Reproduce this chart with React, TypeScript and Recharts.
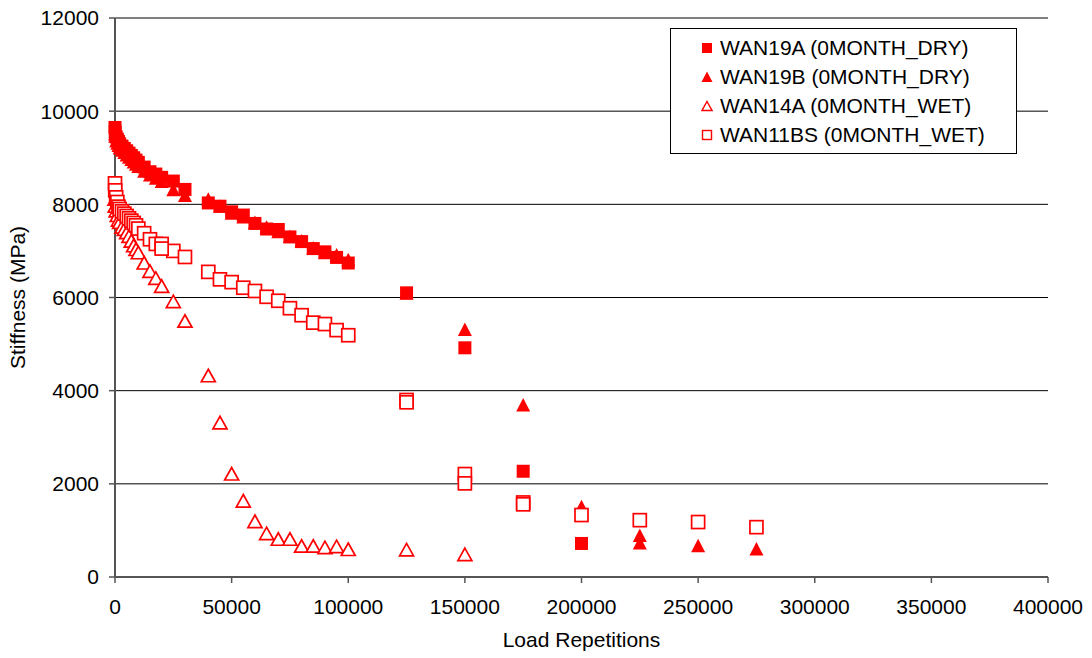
import { CartesianGrid, Legend, Scatter, ScatterChart, XAxis, YAxis } from "recharts";

const FONT = "'Liberation Sans', Arial, sans-serif";
const RED = "#ff0000";

const xTicks = [0, 50000, 100000, 150000, 200000, 250000, 300000, 350000, 400000];
const yTicks = [0, 2000, 4000, 6000, 8000, 10000, 12000];

// load repetitions used for the early readings (0 - 30000)
const earlyReps = [0, 100, 500, 1000, 1500, 2000, 3000, 4000, 5000, 6000, 7000, 8000, 9000, 10000, 12500, 15000, 17500, 20000, 25000, 30000];
const midReps = [40000, 45000, 50000, 55000, 60000, 65000, 70000, 75000, 80000, 85000, 90000, 95000, 100000];

const wan19aReps = [...earlyReps, ...midReps, 125000, 150000, 175000, 200000];
const wan19aStiff = [
  9650, 9550, 9450, 9400, 9350, 9300, 9250, 9200, 9150, 9100, 9050, 9000, 8950, 8900, 8800, 8700, 8650, 8580, 8500, 8320,
  8030, 7960, 7840, 7770, 7590, 7470, 7460, 7300, 7200, 7050, 6980, 6860, 6740,
  6100, 4920, 2270, 720,
];

const wan19bReps = [...earlyReps, ...midReps, 125000, 150000, 175000, 200000, 225000, 225000, 250000, 275000];
const wan19bStiff = [
  9500, 9450, 9350, 9300, 9250, 9200, 9150, 9100, 9050, 9000, 8950, 8900, 8850, 8800, 8700, 8620, 8550, 8480, 8300, 8180,
  8100, 7950, 7800, 7720, 7600, 7500, 7400, 7300, 7200, 7050, 6950, 6900, 6800,
  6080, 5300, 3680, 1500, 880, 720, 660, 590,
];

const wan14aReps = [...earlyReps, ...midReps, 125000, 150000];
const wan14aStiff = [
  8100, 7950, 7850, 7750, 7650, 7600, 7500, 7450, 7380, 7300, 7200, 7100, 7020, 6950, 6730, 6550, 6400, 6230, 5900, 5480,
  4310, 3300, 2200, 1620, 1180, 920, 800, 800, 650, 650, 620, 640, 580,
  570, 470,
];

const wan11bsReps = [...earlyReps, 20000, ...midReps, 125000, 125000, 150000, 150000, 175000, 175000, 200000, 225000, 250000, 275000];
const wan11bsStiff = [
  8450, 8300, 8150, 8050, 7950, 7900, 7850, 7800, 7750, 7700, 7650, 7600, 7550, 7480, 7380, 7250, 7150, 7150, 7000, 6870,
  7050,
  6550, 6390, 6330, 6210, 6140, 6015, 5930, 5770, 5620, 5460, 5430, 5300, 5190,
  3800, 3750, 2210, 2010, 1600, 1560, 1330, 1220, 1180, 1070,
];

const toPoints = (xs: number[], ys: number[]) => xs.map((x, i) => ({ x, y: ys[i] }));

const FilledSquare = ({ cx, cy }: any) => (
  <rect x={cx - 6.5} y={cy - 6.5} width={13} height={13} fill={RED} />
);
const FilledTriangle = ({ cx, cy }: any) => (
  <path d={`M${cx},${cy - 7.5}L${cx + 7},${cy + 6}L${cx - 7},${cy + 6}Z`} fill={RED} />
);
const OpenTriangle = ({ cx, cy }: any) => (
  <path d={`M${cx},${cy - 7}L${cx + 7},${cy + 5.5}L${cx - 7},${cy + 5.5}Z`} fill="#fff" stroke={RED} strokeWidth={1.7} />
);
const OpenSquare = ({ cx, cy }: any) => (
  <rect x={cx - 6.5} y={cy - 6.5} width={13} height={13} fill="#fff" stroke={RED} strokeWidth={1.7} />
);

const legendItems = [
  { name: "WAN19A (0MONTH_DRY)", icon: <rect x={1} y={1} width={10} height={10} fill={RED} /> },
  { name: "WAN19B (0MONTH_DRY)", icon: <path d="M6,0.5L11.5,11L0.5,11Z" fill={RED} /> },
  { name: "WAN14A (0MONTH_WET)", icon: <path d="M6,1.5L11,10.5L1,10.5Z" fill="#fff" stroke={RED} strokeWidth={1.4} /> },
  { name: "WAN11BS (0MONTH_WET)", icon: <rect x={1.5} y={1.5} width={9} height={9} fill="#fff" stroke={RED} strokeWidth={1.4} /> },
];

const LegendBox = () => (
  <div style={{ border: "1px solid #000", background: "#fff", padding: "4px 0 4px 0", fontFamily: FONT, fontSize: 21, color: "#000" }}>
    {legendItems.map((it) => (
      <div key={it.name} style={{ display: "flex", alignItems: "center", height: 29, paddingLeft: 30 }}>
        <svg width={12} height={12} style={{ marginRight: 7 }}>{it.icon}</svg>
        <span>{it.name}</span>
      </div>
    ))}
  </div>
);

export default function App() {
  return (
    <div style={{ position: "absolute", left: 0, top: 0, background: "#fff" }}>
      <ScatterChart width={1092} height={658} margin={{ top: 18, right: 44, left: 0, bottom: 0 }}>
        <CartesianGrid vertical={false} stroke="#000" strokeWidth={1} />
        <XAxis
          type="number"
          dataKey="x"
          domain={[0, 400000]}
          ticks={xTicks}
          interval={0}
          height={81}
          tick={{ fontSize: 21, fill: "#000", fontFamily: FONT }}
          tickSize={6}
          tickMargin={16}
          axisLine={{ stroke: "#555", strokeWidth: 2 }}
          tickLine={{ stroke: "#555", strokeWidth: 1.5 }}
          label={{ value: "Load Repetitions", position: "insideBottom", offset: 11, style: { fontSize: 21, fill: "#000", fontFamily: FONT } }}
        />
        <YAxis
          type="number"
          dataKey="y"
          domain={[0, 12000]}
          ticks={yTicks}
          interval={0}
          width={115}
          tick={{ fontSize: 21, fill: "#000", fontFamily: FONT }}
          tickSize={6}
          tickMargin={10}
          axisLine={{ stroke: "#555", strokeWidth: 2 }}
          tickLine={{ stroke: "#555", strokeWidth: 1.5 }}
          label={{ value: "Stiffness (MPa)", angle: -90, position: "insideLeft", offset: 18, style: { textAnchor: "middle", fontSize: 21, fill: "#000", fontFamily: FONT } }}
        />
        <Legend
          layout="vertical"
          align="center"
          verticalAlign="middle"
          content={<LegendBox />}
          wrapperStyle={{ left: 670, top: 28, width: 347 }}
        />
        <Scatter name="WAN19B (0MONTH_DRY)" data={toPoints(wan19bReps, wan19bStiff)} shape={<FilledTriangle />} isAnimationActive={false} />
        <Scatter name="WAN19A (0MONTH_DRY)" data={toPoints(wan19aReps, wan19aStiff)} shape={<FilledSquare />} isAnimationActive={false} />
        <Scatter name="WAN14A (0MONTH_WET)" data={toPoints(wan14aReps, wan14aStiff)} shape={<OpenTriangle />} isAnimationActive={false} />
        <Scatter name="WAN11BS (0MONTH_WET)" data={toPoints(wan11bsReps, wan11bsStiff)} shape={<OpenSquare />} isAnimationActive={false} />
      </ScatterChart>
    </div>
  );
}
